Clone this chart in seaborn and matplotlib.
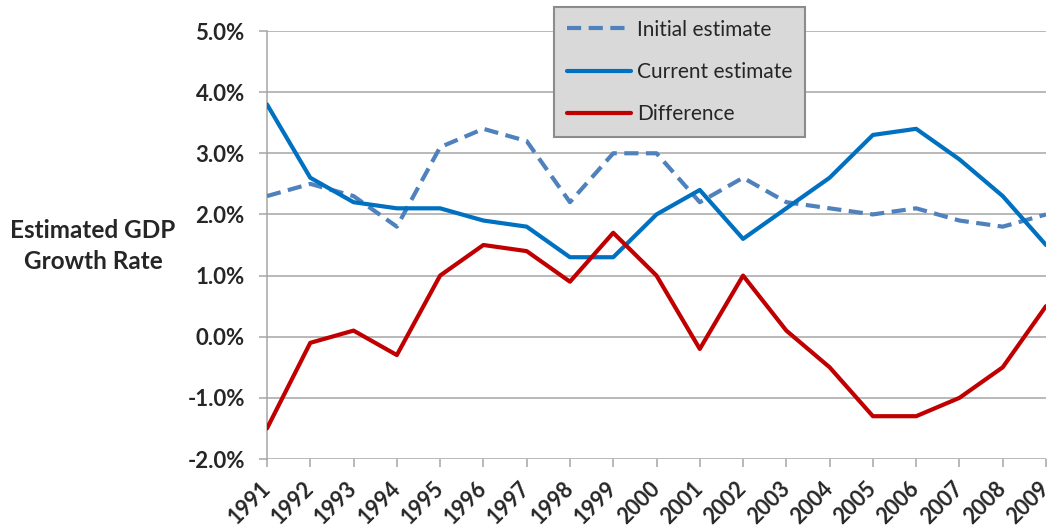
import matplotlib
matplotlib.use("Agg")
import matplotlib.pyplot as plt
import matplotlib.ticker as mticker
import seaborn as sns
import pandas as pd

years = list(range(1991, 2010))
initial_estimate = [2.3, 2.5, 2.3, 1.8, 3.1, 3.4, 3.2, 2.2, 3.0, 3.0,
                    2.2, 2.6, 2.2, 2.1, 2.0, 2.1, 1.9, 1.8, 2.0]
current_estimate = [3.8, 2.6, 2.2, 2.1, 2.1, 1.9, 1.8, 1.3, 1.3, 2.0,
                    2.4, 1.6, 2.1, 2.6, 3.3, 3.4, 2.9, 2.3, 1.5]
difference = [-1.5, -0.1, 0.1, -0.3, 1.0, 1.5, 1.4, 0.9, 1.7, 1.0,
              -0.2, 1.0, 0.1, -0.5, -1.3, -1.3, -1.0, -0.5, 0.5]
series_names = ["Initial estimate", "Current estimate", "Difference"]
y_ticks = [-2, -1, 0, 1, 2, 3, 4, 5]

sns.set_style("white")
plt.rcParams["font.family"] = ["Lato", "DejaVu Sans"]

df = pd.DataFrame({"year": years,
                   series_names[0]: initial_estimate,
                   series_names[1]: current_estimate,
                   series_names[2]: difference})

fig = plt.figure(figsize=(10.51, 5.31), dpi=100)
ax = fig.add_axes([267 / 1051, 1 - 459 / 531, (1046 - 267) / 1051, (459 - 31) / 531])

grid_col = "#a6a6a6"
for v in y_ticks:
    ax.axhline(v, color=grid_col, lw=1.1, zorder=0)

colors = ["#4f81bd", "#0070c0", "#c00000"]
sns.lineplot(data=df, x="year", y=series_names[0], ax=ax, color=colors[0],
             lw=3.0, label=series_names[0], zorder=3)
ax.lines[-1].set_dashes((3.4, 1.8))
sns.lineplot(data=df, x="year", y=series_names[1], ax=ax, color=colors[1],
             lw=3.0, label=series_names[1], zorder=3)
sns.lineplot(data=df, x="year", y=series_names[2], ax=ax, color=colors[2],
             lw=3.0, label=series_names[2], zorder=4)

ax.set_xlim(1991, 2009)
ax.set_ylim(-2, 5)
ax.set_xticks(years)
ax.set_yticks(y_ticks)
ax.yaxis.set_major_formatter(mticker.FuncFormatter(lambda v, p: f"{v:.1f}%"))
ax.set_xticklabels([str(y) for y in years], rotation=45, ha="right",
                   va="center", rotation_mode="anchor", fontsize=15.5,
                   fontweight="bold")
for t in ax.get_yticklabels():
    t.set_fontsize(16)
    t.set_fontweight("bold")

for s in ["top", "right", "bottom"]:
    ax.spines[s].set_visible(False)
ax.spines["left"].set_color(grid_col)
ax.spines["left"].set_linewidth(1.1)
ax.tick_params(axis="both", which="major", direction="out", length=6,
               width=1.1, color=grid_col, left=True, bottom=True)
ax.tick_params(axis="y", pad=10)
ax.tick_params(axis="x", pad=13)

ax.set_xlabel("")
ax.set_ylabel("")
fig.text(93 / 1051, 1 - 246 / 531, "Estimated GDP\nGrowth Rate", ha="center",
         va="center", fontsize=17.5, fontweight="bold", linespacing=1.45)

leg = ax.legend(loc="upper left", bbox_to_anchor=(554 / 1051, 1 - 7 / 531),
                bbox_transform=fig.transFigure, fontsize=15, frameon=True,
                fancybox=False, handlelength=3.1, handletextpad=0.3,
                labelspacing=1.08, borderpad=0.6, borderaxespad=0)
frame = leg.get_frame()
frame.set_facecolor("#d9d9d9")
frame.set_edgecolor("#8c8c8c")
frame.set_linewidth(1.5)
frame.set_alpha(1)
leg.set_zorder(10)

fig.savefig("out.png", dpi=100)
